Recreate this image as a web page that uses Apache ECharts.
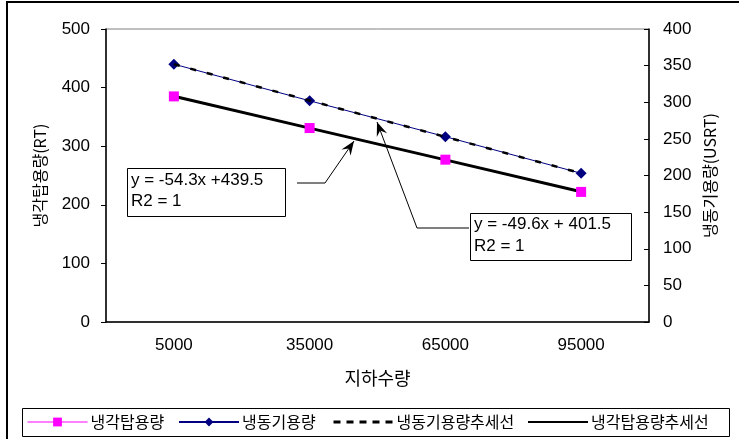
<!DOCTYPE html>
<html>
<head>
<meta charset="utf-8">
<script src="https://cdn.jsdelivr.net/npm/echarts@6/dist/echarts.min.js"></script>
<style>
  html, body { margin: 0; padding: 0; background: #fff; }
  #chart { width: 739px; height: 439px; }
</style>
</head>
<body>
<div id="chart"></div>
<script>
// 지하수량 categories
const categories = ['5000', '35000', '65000', '95000'];
// 냉각탑용량 (RT), left axis
const coolingTower = [385, 331, 277, 222];
// 냉동기용량 (USRT), right axis
const chiller = [352, 302, 253, 203];
// Linear trend values at each category (from the fitted equations)
const chillerTrend = [351.9, 302.3, 252.7, 203.1];
const towerTrend = [385.2, 330.9, 276.6, 222.3];
// Axis ticks
const leftTicks = [0, 100, 200, 300, 400, 500];
const rightTicks = [0, 50, 100, 150, 200, 250, 300, 350, 400];
// Legend entries
const legendNames = ['냉각탑용량', '냉동기용량', '냉동기용량추세선', '냉각탑용량추세선'];

const LATIN = "'Liberation Sans', Arial, 'Noto Sans CJK KR', sans-serif";
const KOREAN = "'Noto Sans CJK KR', 'Liberation Sans', sans-serif";

const chart = echarts.init(document.getElementById('chart'), null, { renderer: 'canvas' });

// Callout arrowhead: tip plus a notched back
function arrowHead(tip, from, len, half, notch) {
  const dx = tip[0] - from[0], dy = tip[1] - from[1];
  const d = Math.hypot(dx, dy);
  const ux = dx / d, uy = dy / d;
  const px = -uy, py = ux;
  const bx = tip[0] - ux * len, by = tip[1] - uy * len;
  const nx = tip[0] - ux * notch, ny = tip[1] - uy * notch;
  return [tip, [bx + px * half, by + py * half], [nx, ny], [bx - px * half, by - py * half]];
}

const callout1Tip = [354, 141], callout1Bend = [325, 183];
const callout2Tip = [377, 122], callout2Bend = [417, 228];

const hiddenMarker = { color: 'rgba(0,0,0,0)', borderWidth: 0 };
const legendItemStyle = [
  { lineStyle: { color: '#FF00FF', width: 1, opacity: 1 } },
  {},
  { itemStyle: hiddenMarker, lineStyle: { type: [7, 6], width: 3 } },
  { itemStyle: hiddenMarker }
];
const legendLeft = [27, 178, 332, 527];

// one legend block per entry, laid out along the bottom strip
const legends = legendNames.map((name, i) => ({
  left: legendLeft[i], top: 414,
  itemWidth: 60, itemHeight: 11, padding: 0,
  textStyle: { fontFamily: KOREAN, fontSize: 16, color: '#000', padding: [0, 0, 0, -2] },
  data: [Object.assign({ name }, legendItemStyle[i])]
}));

chart.setOption({
  backgroundColor: '#fff',
  animation: false,
  grid: {
    left: 106, top: 29, right: 90, bottom: 117,
    show: true, borderColor: '#808080', borderWidth: 1
  },
  legend: legends,
  xAxis: {
    type: 'category',
    data: categories,
    boundaryGap: true,
    name: '지하수량',
    nameLocation: 'middle',
    nameGap: 47,
    nameTextStyle: { fontFamily: KOREAN, fontSize: 18, color: '#000' },
    axisLine: { lineStyle: { color: '#000', width: 1.5 } },
    axisTick: { inside: true, length: 4, lineStyle: { color: '#000' } },
    axisLabel: { fontFamily: LATIN, fontSize: 17, color: '#000', margin: 15 },
    splitLine: { show: false }
  },
  yAxis: [
    {
      type: 'value',
      position: 'left',
      min: leftTicks[0], max: leftTicks[leftTicks.length - 1], interval: 100,
      name: '냉각탑용량(RT)',
      nameLocation: 'middle',
      nameRotate: 90,
      nameGap: 58,
      nameTextStyle: { fontFamily: KOREAN, fontSize: 16, color: '#000' },
      axisLine: { show: true, lineStyle: { color: '#000', width: 1.5 } },
      axisTick: { show: true, inside: false, length: 5, lineStyle: { color: '#000' } },
      axisLabel: { fontFamily: LATIN, fontSize: 17, color: '#000', margin: 16 },
      splitLine: { show: false }
    },
    {
      type: 'value',
      position: 'right',
      min: rightTicks[0], max: rightTicks[rightTicks.length - 1], interval: 50,
      name: '냉동기용량(USRT)',
      nameLocation: 'middle',
      nameRotate: 90,
      nameGap: 52,
      nameTextStyle: { fontFamily: KOREAN, fontSize: 16, color: '#000' },
      axisLine: { show: true, lineStyle: { color: '#000', width: 1.5 } },
      axisTick: { show: true, inside: true, length: 5, lineStyle: { color: '#000' } },
      axisLabel: { fontFamily: LATIN, fontSize: 17, color: '#000', margin: 14 },
      splitLine: { show: false }
    }
  ],
  series: [
    {
      // the thin magenta connector sits under the solid trend line
      name: legendNames[0],
      type: 'line',
      yAxisIndex: 0,
      data: coolingTower,
      symbol: 'rect',
      symbolSize: 10,
      z: 4,
      lineStyle: { color: '#FF00FF', width: 1, opacity: 0 },
      itemStyle: { color: '#FF00FF', borderWidth: 0 }
    },
    {
      name: legendNames[1],
      type: 'line',
      yAxisIndex: 1,
      data: chiller,
      symbol: 'diamond',
      symbolSize: 11,
      z: 2,
      lineStyle: { color: '#000080', width: 1 },
      itemStyle: { color: '#000080', borderWidth: 0 }
    },
    {
      name: legendNames[2],
      type: 'line',
      yAxisIndex: 1,
      data: chillerTrend,
      symbol: 'none',
      z: 3,
      lineStyle: { color: '#000', width: 2.5, type: [6, 11] },
      itemStyle: { color: '#000' }
    },
    {
      name: legendNames[3],
      type: 'line',
      yAxisIndex: 0,
      data: towerTrend,
      symbol: 'none',
      z: 3,
      lineStyle: { color: '#000', width: 3 },
      itemStyle: { color: '#000' }
    }
  ],
  graphic: [
    // chart frame
    { type: 'rect', silent: true, z: 0, shape: { x: 7, y: 2, width: 760, height: 470 },
      style: { fill: 'none', stroke: '#000', lineWidth: 2 } },
    // legend frame
    { type: 'rect', silent: true, z: 0, shape: { x: 22.5, y: 408.5, width: 707, height: 28 },
      style: { fill: '#fff', stroke: '#000', lineWidth: 1 } },
    // callout for the 냉각탑 trend equation
    { type: 'polyline', silent: true, z: 10,
      shape: { points: [[297, 183], callout1Bend, callout1Tip] },
      style: { stroke: '#000', lineWidth: 1, fill: null } },
    { type: 'polygon', silent: true, z: 10,
      shape: { points: arrowHead(callout1Tip, callout1Bend, 14, 5.5, 9) },
      style: { fill: '#000' } },
    { type: 'rect', silent: true, z: 10, shape: { x: 127.5, y: 168.5, width: 158, height: 48 },
      style: { fill: '#fff', stroke: '#000', lineWidth: 1 } },
    { type: 'text', silent: true, z: 11, x: 131, y: 170,
      style: { text: 'y = -54.3x +439.5\nR2 = 1', fontFamily: LATIN, fontSize: 17,
               lineHeight: 21, fill: '#000', verticalAlign: 'top', align: 'left' } },
    // callout for the 냉동기 trend equation
    { type: 'polyline', silent: true, z: 10,
      shape: { points: [[469, 228], callout2Bend, callout2Tip] },
      style: { stroke: '#000', lineWidth: 1, fill: null } },
    { type: 'polygon', silent: true, z: 10,
      shape: { points: arrowHead(callout2Tip, callout2Bend, 14, 5.5, 9) },
      style: { fill: '#000' } },
    { type: 'rect', silent: true, z: 10, shape: { x: 470.5, y: 213.5, width: 161, height: 47 },
      style: { fill: '#fff', stroke: '#000', lineWidth: 1 } },
    { type: 'text', silent: true, z: 11, x: 474, y: 213,
      style: { text: 'y = -49.6x + 401.5\nR2 = 1', fontFamily: LATIN, fontSize: 17,
               lineHeight: 22, fill: '#000', verticalAlign: 'top', align: 'left' } }
  ]
});
</script>
</body>
</html>
